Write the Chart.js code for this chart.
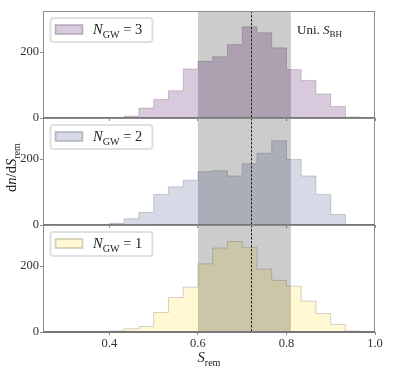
<!DOCTYPE html>
<html>
<head>
<meta charset="utf-8">
<script src="https://cdn.jsdelivr.net/npm/chart.js@4.4.1/dist/chart.umd.min.js"></script>
<style>
  html, body { margin: 0; padding: 0; background: #fff; }
  #wrap { position: relative; width: 395px; height: 374px; overflow: hidden; }
  #wrap canvas { position: absolute; left: 0; }
</style>
</head>
<body>
<div id="wrap">
  <canvas id="c1" width="395" height="121" style="top:0px"></canvas>
  <canvas id="c2" width="395" height="121" style="top:107px"></canvas>
  <canvas id="c3" width="395" height="160" style="top:214px"></canvas>
</div>
<script>
// histogram bin edges (S_rem), one more than the counts
const binEdges = [0.4, 0.4333, 0.4667, 0.5, 0.5333, 0.5667, 0.6, 0.6333, 0.6667,
  0.7, 0.7333, 0.7667, 0.8, 0.8333, 0.8667, 0.9, 0.9333, 0.9667];
// dn/dS_rem per bin
const countsN3 = [0, 6, 30, 56, 83, 149, 172, 186, 223, 277, 259, 213, 147, 114, 73, 35, 3];
const countsN2 = [5, 19, 38, 93, 116, 136, 162, 165, 149, 186, 218, 256, 199, 149, 93, 32, 0];
const countsN1 = [3, 10, 17, 59, 105, 136, 207, 255, 275, 257, 191, 157, 139, 94, 56, 23, 3];

const uniBand = [0.6, 0.81];
const sBH = 0.72;
const xTicks = [0.4, 0.6, 0.8, 1.0];
const yTicks = [0, 200];

const FONT = '"Liberation Serif", "DejaVu Serif", serif';

function histPoints(counts) {
  const pts = [{ x: binEdges[0], y: 0 }];
  counts.forEach((c, i) => pts.push({ x: binEdges[i], y: c }));
  pts.push({ x: binEdges[counts.length], y: 0 });
  return pts;
}

// text with italic / subscript pieces
function richText(ctx, parts, x, y, size, measureOnly) {
  let cx = x;
  parts.forEach(([t, s]) => {
    const fs = s === 's' ? size * 0.7 : size;
    ctx.font = (s === 'i' ? 'italic ' : '') + fs + 'px ' + FONT;
    if (!measureOnly) ctx.fillText(t, cx, s === 's' ? y + size * 0.25 : y);
    cx += ctx.measureText(t).width;
  });
  return cx - x;
}

const decorPlugin = {
  id: 'decor',
  afterDatasetsDraw(chart, args, o) {
    const ctx = chart.ctx;
    const a = chart.chartArea;
    const xs = chart.scales.x, ys = chart.scales.y;
    ctx.save();
    // uniform band
    ctx.fillStyle = 'rgba(0,0,0,0.2)';
    const b0 = xs.getPixelForValue(uniBand[0]), b1 = xs.getPixelForValue(uniBand[1]);
    ctx.fillRect(b0, a.top, b1 - b0, a.bottom - a.top);
    // S_BH line
    const xl = xs.getPixelForValue(sBH);
    ctx.strokeStyle = '#222';
    ctx.lineWidth = 1;
    ctx.setLineDash([2.5, 1.5]);
    ctx.beginPath();
    ctx.moveTo(Math.round(xl) + 0.5, a.top);
    ctx.lineTo(Math.round(xl) + 0.5, a.bottom);
    ctx.stroke();
    ctx.setLineDash([]);
    // frame
    ctx.strokeStyle = '#8c8c8c';
    ctx.lineWidth = 1;
    ctx.strokeRect(a.left + 0.5, a.top + 0.5, a.right - a.left - 1, a.bottom - a.top);
    // zero line
    const y0 = ys.getPixelForValue(0);
    ctx.strokeStyle = '#777';
    ctx.lineWidth = 2;
    ctx.beginPath();
    ctx.moveTo(a.left, y0);
    ctx.lineTo(a.right, y0);
    ctx.stroke();

    // legend box
    const lx = a.left + 7, ly = a.top + 6.5;
    ctx.fillStyle = 'rgba(255,255,255,0.85)';
    ctx.strokeStyle = '#e0e0e0';
    ctx.beginPath();
    ctx.roundRect(lx + 0.5, ly + 0.5, 102, 24, 3);
    ctx.fill();
    ctx.stroke();
    ctx.fillStyle = o.color;
    ctx.fillRect(lx + 5, ly + 7, 28, 10);
    ctx.strokeStyle = 'rgba(0,0,0,0.15)';
    ctx.strokeRect(lx + 5.5, ly + 7.5, 27, 9);
    ctx.fillStyle = '#222';
    ctx.textBaseline = 'alphabetic';
    richText(ctx, [['N', 'i'], ['GW', 's'], [' = ' + o.n, '']], lx + 43, ly + 16.5, 14.5);

    if (o.uni) {
      richText(ctx, [['Uni. ', ''], ['S', 'i'], ['BH', 's']], 297, a.top + 23, 13);
    }
    if (o.ytitle) {
      ctx.save();
      const parts = [['d', ''], ['n', 'i'], ['/d', ''], ['S', 'i'], ['rem', 's']];
      const w = richText(ctx, parts, 0, 0, 14.5, true);
      ctx.translate(16, (a.top + a.bottom) / 2 - 4);
      ctx.rotate(-Math.PI / 2);
      richText(ctx, parts, -w / 2, 0, 14.5);
      ctx.restore();
    }
    if (o.xtitle) {
      const parts = [['S', 'i'], ['rem', 's']];
      const w = richText(ctx, parts, 0, 0, 14.5, true);
      richText(ctx, parts, (a.left + a.right) / 2 - w / 2, a.bottom + 30, 14.5);
    }
    ctx.restore();
  }
};

function makeChart(id, counts, color, n, extra, xHeight) {
  const last = !!extra.xtitle;
  return new Chart(document.getElementById(id), {
    type: 'line',
    data: {
      datasets: [{
        data: histPoints(counts),
        stepped: true,
        fill: 'origin',
        backgroundColor: color,
        borderColor: 'rgba(0,0,0,0.17)',
        borderWidth: 1,
        pointRadius: 0,
      }],
    },
    options: {
      responsive: false,
      animation: false,
      events: [],
      layout: { padding: { left: 0, right: 20, top: 11, bottom: last ? 0 : 3 } },
      plugins: {
        legend: { display: false },
        tooltip: { enabled: false },
        decor: Object.assign({ color: color, n: n }, extra),
      },
      scales: {
        x: {
          type: 'linear',
          min: 0.25,
          max: 1.0,
          border: { display: false },
          grid: { drawOnChartArea: false, tickLength: 3, color: '#8c8c8c' },
          ticks: {
            display: last,
            padding: 1,
            color: '#333',
            font: { family: FONT, size: 12.5 },
            callback: v => v.toFixed(1),
          },
          afterBuildTicks: s => { s.ticks = xTicks.map(v => ({ value: v })); },
          afterFit: s => { s.height = xHeight; s.paddingLeft = 0; s.paddingRight = 0; },
        },
        y: {
          min: 0,
          max: 325,
          border: { display: false },
          grid: { drawOnChartArea: false, tickLength: 3, color: '#8c8c8c' },
          ticks: {
            padding: 1,
            color: '#333',
            font: { family: FONT, size: 12.5 },
          },
          afterBuildTicks: s => { s.ticks = yTicks.map(v => ({ value: v })); },
          afterFit: s => { s.width = 43; s.paddingTop = 0; s.paddingBottom = 0; },
        },
      },
    },
    plugins: [decorPlugin],
  });
}

makeChart('c1', countsN3, '#d9c9dc', 3, { uni: true }, 0);
makeChart('c2', countsN2, '#d6dae6', 2, { ytitle: true }, 0);
makeChart('c3', countsN1, '#fff8d3', 1, { xtitle: true }, 42);
</script>
</body>
</html>
